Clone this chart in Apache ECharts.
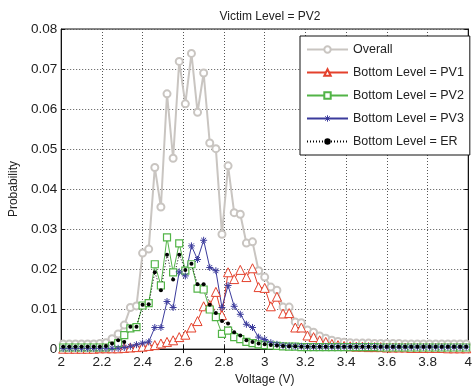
<!DOCTYPE html>
<html>
<head>
<meta charset="utf-8">
<script src="https://cdn.jsdelivr.net/npm/echarts@6/dist/echarts.min.js"></script>
<style>
  html, body { margin: 0; padding: 0; background: #fff; }
  #chart { width: 475px; height: 391px; }
</style>
</head>
<body>
<div id="chart"></div>
<script>
// voltage bins (V)
const volts = [
  2.01, 2.04, 2.07, 2.10, 2.13, 2.16, 2.19, 2.22, 2.25, 2.28,
  2.31, 2.34, 2.37, 2.40, 2.43, 2.46, 2.49, 2.52, 2.55, 2.58,
  2.61, 2.64, 2.67, 2.70, 2.73, 2.76, 2.79, 2.82, 2.85, 2.88,
  2.91, 2.94, 2.97, 3.00, 3.03, 3.06, 3.09, 3.12, 3.15, 3.18,
  3.21, 3.24, 3.27, 3.30, 3.33, 3.36, 3.39, 3.42, 3.45, 3.48,
  3.51, 3.54, 3.57, 3.60, 3.63, 3.66, 3.69, 3.72, 3.75, 3.78,
  3.81, 3.84, 3.87, 3.90, 3.93, 3.96, 3.99
];

const overall = [
  0.0013, 0.0013, 0.0013, 0.0013, 0.0013, 0.0013, 0.0014, 0.0016, 0.0026, 0.0038,
  0.006, 0.0104, 0.0108, 0.024, 0.025, 0.0454, 0.0355, 0.0638, 0.0477, 0.0719,
  0.0613, 0.0739, 0.0592, 0.069, 0.0515, 0.0501, 0.0287, 0.0458, 0.0341, 0.0337,
  0.0265, 0.0268, 0.0196, 0.018, 0.0155, 0.0147, 0.0105, 0.0105, 0.0068, 0.0066,
  0.0048, 0.0042, 0.0033, 0.0027, 0.0022, 0.0019, 0.0017, 0.0016, 0.0015, 0.0015,
  0.0015, 0.0014, 0.0014, 0.0014, 0.0014, 0.0014, 0.0013, 0.0013, 0.0013, 0.0013,
  0.0013, 0.0013, 0.0013, 0.0013, 0.0013, 0.0013, 0.0013
];

const pv1 = [
  0.0001, 0.0001, 0.0001, 0.0001, 0.0001, 0.0001, 0.0002, 0.0002, 0.0002, 0.0002,
  0.0003, 0.0004, 0.0005, 0.0006, 0.0008, 0.001, 0.0014, 0.0018, 0.0022, 0.003,
  0.0036, 0.0054, 0.007, 0.0107, 0.011, 0.0143, 0.0085, 0.0192, 0.0175, 0.0198,
  0.018, 0.0202, 0.0155, 0.0153, 0.0107, 0.0131, 0.0089, 0.009, 0.0054, 0.0054,
  0.0034, 0.003, 0.0022, 0.0018, 0.0013, 0.001, 0.0008, 0.0007, 0.0006, 0.0006,
  0.0005, 0.0005, 0.0005, 0.0004, 0.0004, 0.0004, 0.0004, 0.0003, 0.0003, 0.0003,
  0.0003, 0.0003, 0.0003, 0.0002, 0.0002, 0.0002, 0.0002
];

const pv2 = [
  0.0004, 0.0004, 0.0004, 0.0004, 0.0004, 0.0004, 0.0004, 0.0004, 0.0008, 0.0015,
  0.0035, 0.0052, 0.0055, 0.0109, 0.0115, 0.0212, 0.0159, 0.0279, 0.0192, 0.0264,
  0.0196, 0.0212, 0.0151, 0.0149, 0.0099, 0.008, 0.0038, 0.0046, 0.003, 0.0025,
  0.0018, 0.0015, 0.0012, 0.001, 0.0009, 0.0008, 0.0007, 0.0006, 0.0006, 0.0005,
  0.0005, 0.0005, 0.0005, 0.0005, 0.0005, 0.0005, 0.0005, 0.0005, 0.0005, 0.0005,
  0.0005, 0.0005, 0.0004, 0.0004, 0.0004, 0.0004, 0.0004, 0.0004, 0.0004, 0.0004,
  0.0004, 0.0004, 0.0004, 0.0004, 0.0004, 0.0004, 0.0004
];

const pv3 = [
  0.0002, 0.0002, 0.0002, 0.0002, 0.0002, 0.0002, 0.0002, 0.0002, 0.0002, 0.0002,
  0.0004, 0.0007, 0.0011, 0.0015, 0.0018, 0.0054, 0.0054, 0.0119, 0.0104, 0.0193,
  0.0183, 0.0258, 0.0224, 0.0272, 0.0204, 0.0196, 0.0104, 0.0159, 0.0107, 0.0087,
  0.0062, 0.0054, 0.003, 0.0024, 0.0016, 0.0012, 0.0009, 0.0008, 0.0007, 0.0007,
  0.0006, 0.0006, 0.0006, 0.0006, 0.0006, 0.0006, 0.0006, 0.0006, 0.0006, 0.0006,
  0.0006, 0.0006, 0.0005, 0.0005, 0.0005, 0.0005, 0.0005, 0.0005, 0.0005, 0.0005,
  0.0005, 0.0005, 0.0005, 0.0005, 0.0005, 0.0005, 0.0005
];

const er = [
  0.0006, 0.0006, 0.0006, 0.0006, 0.0006, 0.0006, 0.0006, 0.0008, 0.0014, 0.0022,
  0.0018, 0.0056, 0.0056, 0.0111, 0.0112, 0.0192, 0.0147, 0.0236, 0.0174, 0.0236,
  0.0198, 0.0213, 0.0162, 0.0162, 0.0111, 0.009, 0.007, 0.0064, 0.0042, 0.0034,
  0.0022, 0.0018, 0.0014, 0.0012, 0.001, 0.0009, 0.0008, 0.0007, 0.0007, 0.0006,
  0.0006, 0.0006, 0.0006, 0.0006, 0.0006, 0.0006, 0.0006, 0.0006, 0.0006, 0.0006,
  0.0006, 0.0006, 0.0006, 0.0006, 0.0006, 0.0006, 0.0006, 0.0006, 0.0006, 0.0006,
  0.0006, 0.0006, 0.0006, 0.0006, 0.0006, 0.0006, 0.0006
];

const xTicks = { min: 2, max: 4, interval: 0.2 };
const yTicks = { min: 0, max: 0.08, interval: 0.01 };

const FONT = '"Liberation Sans", Arial, sans-serif';
const ASTERISK = 'path://M5,0L5,10M0,5L10,5M1.5,1.5L8.5,8.5M1.5,8.5L8.5,1.5';
const BLUE = '#3b3b9c';

function pairs(ys) {
  return volts.map((v, i) => [v, ys[i]]);
}

const chart = echarts.init(document.getElementById('chart'), null, { renderer: 'canvas' });

const dotted = { color: '#555', type: [1, 2], width: 1 };

chart.setOption({
  animation: false,
  backgroundColor: '#fff',
  textStyle: { fontFamily: FONT },
  title: {
    text: 'Victim Level = PV2',
    left: 265,
    top: 6,
    textAlign: 'center',
    textStyle: { fontFamily: FONT, fontSize: 12, fontWeight: 'normal', color: '#222' }
  },
  grid: {
    left: 57, right: 1, top: 29, bottom: 32,
    show: true, borderColor: '#111', borderWidth: 1, backgroundColor: '#fff'
  },
  legend: {
    orient: 'vertical',
    left: 300,
    top: 36,
    padding: [7, 6],
    itemGap: 10,
    itemWidth: 41,
    itemHeight: 8,
    backgroundColor: '#fff',
    borderColor: '#111',
    borderWidth: 1,
    borderRadius: 0,
    textStyle: { fontFamily: FONT, fontSize: 12.5, color: '#222' },
    data: [
      'Overall',
      'Bottom Level = PV1',
      'Bottom Level = PV2',
      { name: 'Bottom Level = PV3', itemStyle: { color: BLUE, borderColor: BLUE, borderWidth: 1 } },
      'Bottom Level = ER'
    ]
  },
  xAxis: [
    {
      type: 'value',
      ...xTicks,
      name: 'Voltage (V)',
      nameLocation: 'middle',
      nameGap: 17,
      nameTextStyle: { fontFamily: FONT, fontSize: 12, color: '#222' },
      axisLine: { show: true, onZero: false, lineStyle: { color: '#111' } },
      axisTick: { inside: true, length: 4, lineStyle: { color: '#111' } },
      axisLabel: { fontFamily: FONT, fontSize: 13.5, color: '#222', margin: 6 },
      splitLine: { show: true, lineStyle: dotted }
    },
    {
      type: 'value',
      position: 'top',
      ...xTicks,
      axisLine: { show: true, lineStyle: { color: '#111' } },
      axisTick: { inside: true, length: 4, lineStyle: { color: '#111' } },
      axisLabel: { show: false },
      splitLine: { show: false }
    }
  ],
  yAxis: [
    {
      type: 'value',
      ...yTicks,
      name: 'Probability',
      nameLocation: 'middle',
      nameGap: 38,
      nameTextStyle: { fontFamily: FONT, fontSize: 12, color: '#222' },
      axisLine: { show: true, lineStyle: { color: '#111' } },
      axisTick: { inside: true, length: 4, lineStyle: { color: '#111' } },
      axisLabel: {
        fontFamily: FONT, fontSize: 13.5, color: '#222', margin: 4,
        formatter: (v) => (v === 0 ? '0' : v.toFixed(2))
      },
      splitLine: { show: true, lineStyle: dotted }
    },
    {
      type: 'value',
      position: 'right',
      ...yTicks,
      axisLine: { show: true, lineStyle: { color: '#111' } },
      axisTick: { inside: true, length: 4, lineStyle: { color: '#111' } },
      axisLabel: { show: false },
      splitLine: { show: false }
    }
  ],
  series: [
    {
      name: 'Overall',
      type: 'line',
      data: pairs(overall),
      symbol: 'emptyCircle',
      symbolSize: 7,
      lineStyle: { color: '#c9c5c1', width: 2 },
      itemStyle: { color: '#c9c5c1', borderColor: '#c9c5c1', borderWidth: 1.5 }
    },
    {
      name: 'Bottom Level = PV1',
      type: 'line',
      data: pairs(pv1),
      symbol: 'triangle',
      symbolSize: 9,
      lineStyle: { color: '#e4412c', width: 1 },
      itemStyle: { color: '#fff', borderColor: '#e4412c', borderWidth: 1 }
    },
    {
      name: 'Bottom Level = PV2',
      type: 'line',
      data: pairs(pv2),
      symbol: 'rect',
      symbolSize: 7,
      lineStyle: { color: '#52b447', width: 1 },
      itemStyle: { color: '#fff', borderColor: '#52b447', borderWidth: 1.2 }
    },
    {
      name: 'Bottom Level = PV3',
      type: 'line',
      data: pairs(pv3),
      symbol: ASTERISK,
      symbolSize: 7,
      lineStyle: { color: BLUE, width: 1 },
      itemStyle: { color: BLUE, borderColor: BLUE, borderWidth: 1 }
    },
    {
      name: 'Bottom Level = ER',
      type: 'line',
      data: pairs(er),
      symbol: 'circle',
      symbolSize: 4,
      lineStyle: { color: '#000', width: 1, type: [1, 2] },
      itemStyle: { color: '#000' }
    }
  ]
});
</script>
</body>
</html>
